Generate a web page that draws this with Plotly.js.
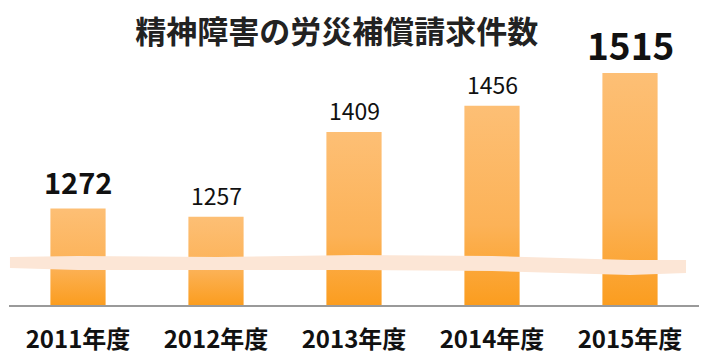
<!DOCTYPE html>
<html><head><meta charset="utf-8">
<script src="https://cdn.plot.ly/plotly-3.0.1.min.js"></script>
<style>html,body{margin:0;padding:0;background:#fff}#chart{width:720px;height:360px}</style>
</head><body><div id="chart"></div>
<script>
// ---- data ----
const categories = ['2011年度', '2012年度', '2013年度', '2014年度', '2015年度'];
const claims = [1272, 1257, 1409, 1456, 1515];
const highlighted = ['2011年度', '2015年度'];
const titleText = '精神障害の労災補償請求件数';

// ---- layout config ----
const W = 720, H = 360;
const M = {l: 9, r: 21, t: 40, b: 55};
const pw = W - M.l - M.r, ph = H - M.t - M.b;
const yRange = [1099, 1574];
const FONT = '"Noto Sans CJK JP", "Noto Sans", sans-serif';

// decorative "axis break" band (pixel outline, converted to paper coords)
const bandTop = [[10,257],[78,256],[217,257],[355,255],[492,256],[630,260],[686,260]];
const bandBot = [[686,273],[630,275],[492,271],[355,270],[217,270],[78,270],[10,268]];
function toPaper(p) { return [(p[0] - M.l) / pw, (H - M.b - p[1]) / ph]; }
const bandPts = bandTop.concat(bandBot).map(toPaper);
const bandPath = 'M' + bandPts.map(p => p[0].toFixed(4) + ',' + p[1].toFixed(4)).join(' L') + ' Z';

const annotations = categories.map((c, i) => {
  const hi = highlighted.includes(c);
  const big = claims[i] === Math.max(...claims);
  return {
    x: c, y: claims[i], xref: 'x', yref: 'y',
    text: String(claims[i]), showarrow: false,
    yanchor: 'bottom', yshift: big ? 0 : (hi ? 4 : 3),
    font: {family: FONT, size: big ? 37 : (hi ? 29 : 23), weight: hi ? 700 : 400, color: '#111'}
  };
});

const data = [{
  type: 'bar', x: categories, y: claims,
  marker: {color: '#FCAE4A', line: {width: 0}},
  hoverinfo: 'none'
}];

const layout = {
  width: W, height: H,
  margin: M,
  paper_bgcolor: '#fff', plot_bgcolor: '#fff',
  showlegend: false,
  bargap: 0.6,
  title: {
    text: titleText, x: 0.475, xanchor: 'center', xref: 'paper',
    y: 1 - 32 / H, yanchor: 'middle', yref: 'container',
    font: {family: FONT, size: 31, weight: 700, color: '#222'}
  },
  xaxis: {
    type: 'category', showline: true, linecolor: '#9a9a9a', linewidth: 1.5,
    showgrid: false, zeroline: false, ticks: '',
    tickfont: {family: FONT, size: 24, weight: 700, color: '#111'},
    ticklabelstandoff: 13
  },
  yaxis: {
    range: yRange, visible: false, showgrid: false, zeroline: false, fixedrange: true
  },
  annotations: annotations,
  shapes: [{
    type: 'path', xref: 'paper', yref: 'paper', path: bandPath,
    fillcolor: '#FCE6D6', line: {width: 0}, layer: 'above'
  }]
};

Plotly.newPlot('chart', data, layout, {staticPlot: true, displayModeBar: false}).then(gd => {
  const ns = 'http://www.w3.org/2000/svg';
  const svg = gd.querySelector('svg.main-svg');
  let defs = svg.querySelector('defs');
  if (!defs) { defs = document.createElementNS(ns, 'defs'); svg.insertBefore(defs, svg.firstChild); }
  gd.querySelectorAll('.bars .point path').forEach((p, i) => {
    const bb = p.getBBox();
    const lg = document.createElementNS(ns, 'linearGradient');
    lg.setAttribute('id', 'barGrad' + i);
    lg.setAttribute('gradientUnits', 'userSpaceOnUse');
    lg.setAttribute('x1', 0); lg.setAttribute('x2', 0);
    lg.setAttribute('y1', bb.y); lg.setAttribute('y2', Math.min(bb.y + bb.height, ph));
    [['0', '#FDBF75'], ['0.6', '#FCB257'], ['1', '#FB9D1F']].forEach(s => {
      const st = document.createElementNS(ns, 'stop');
      st.setAttribute('offset', s[0]); st.setAttribute('stop-color', s[1]);
      lg.appendChild(st);
    });
    defs.appendChild(lg);
    p.style.fill = 'url(#barGrad' + i + ')';
  });
});
</script>
</body></html>
